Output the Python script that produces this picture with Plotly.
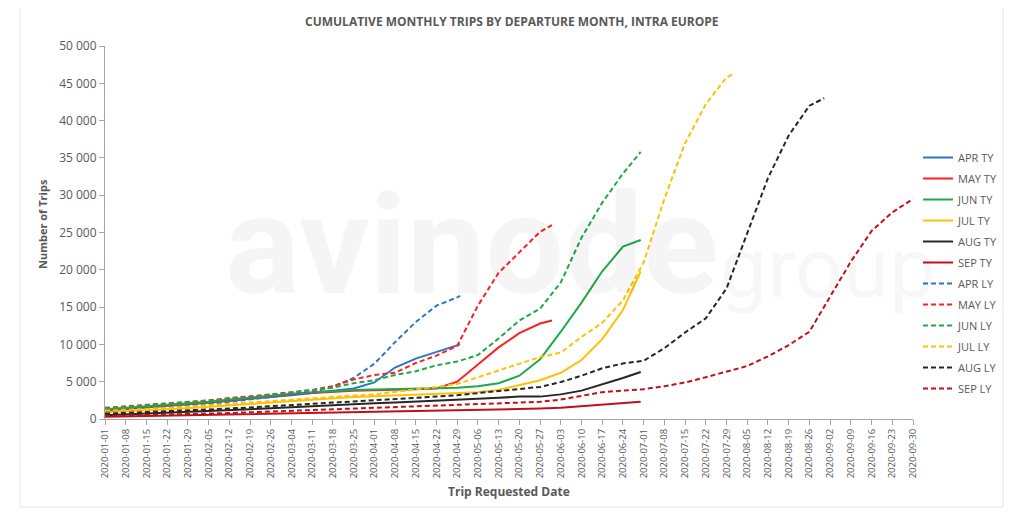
import pandas as pd
import plotly.graph_objects as go

# ---- data ----
WEEK_TICKS = pd.date_range("2020-01-01", "2020-09-30", freq="7D")
TICK_TEXT = [d.strftime("%Y-%m-%d") for d in WEEK_TICKS]

SERIES_NAMES = ["APR TY", "MAY TY", "JUN TY", "JUL TY", "AUG TY", "SEP TY",
                "APR LY", "MAY LY", "JUN LY", "JUL LY", "AUG LY", "SEP LY"]

APR_TY = [1100, 1300, 1500, 1700, 1900, 2100, 2400, 2700, 2900, 3200, 3500, 3800,
          4100, 4900, 6900, 8100, 9000, 9900, 10000]
MAY_TY = [1200, 1400, 1600, 1800, 2000, 2200, 2500, 2800, 3000, 3300, 3500, 3700,
          3800, 3850, 3900, 4000, 4100, 5000, 7300, 9600, 11500, 12800, 13200]
JUN_TY = [1300, 1500, 1700, 1900, 2100, 2300, 2600, 2900, 3100, 3400, 3600, 3800,
          3900, 3950, 4000, 4000, 4100, 4200, 4400, 4800, 5800, 8000, 11700, 15600,
          19800, 23100, 24000]
JUL_TY = [900, 1000, 1150, 1300, 1450, 1600, 1800, 2000, 2200, 2400, 2600, 2800,
          2950, 3050, 3150, 3250, 3350, 3450, 3600, 3900, 4500, 5200, 6200, 7900,
          10700, 14600, 19800]
AUG_TY = [500, 600, 700, 800, 900, 1000, 1150, 1300, 1450, 1600, 1750, 1900,
          2000, 2100, 2200, 2300, 2400, 2550, 2700, 2850, 3000, 3000, 3300, 3800,
          4600, 5500, 6300]
SEP_TY = [300, 350, 400, 450, 500, 550, 600, 650, 700, 750, 800, 850,
          900, 950, 1000, 1050, 1100, 1150, 1200, 1300, 1350, 1400, 1500, 1700,
          1900, 2100, 2300]

APR_LY = [1000, 1200, 1400, 1600, 1800, 2000, 2300, 2600, 2900, 3200, 3600, 4300,
          5500, 7400, 10300, 13000, 15200, 16300, 16500]
MAY_LY = [1500, 1700, 1900, 2100, 2300, 2500, 2800, 3000, 3300, 3600, 3900, 4400,
          5300, 5900, 6200, 7500, 8500, 9800, 15200, 19600, 22400, 25100, 26000]
JUN_LY = [1400, 1600, 1800, 2000, 2200, 2400, 2700, 2900, 3200, 3500, 3800, 4200,
          4800, 5200, 5900, 6400, 7200, 7700, 8580, 10800, 13200, 14800, 18300,
          24300, 29000, 32900, 35800]
JUL_LY = [1100, 1200, 1350, 1500, 1650, 1800, 2000, 2200, 2400, 2600, 2800, 2950,
          3150, 3300, 3600, 3900, 4300, 4700, 5600, 6500, 7300, 8300, 8900, 11000,
          12900, 15900, 21000, 29500, 37000, 42200, 45800, 46200]
AUG_LY = [700, 800, 900, 1000, 1100, 1250, 1400, 1550, 1700, 1850, 2000, 2150,
          2300, 2450, 2650, 2850, 3000, 3200, 3500, 3800, 4100, 4300, 4950, 5800,
          6800, 7450, 7800, 9500, 11600, 13500, 17500, 25000, 32300, 38000, 42000,
          43000]
SEP_LY = [400, 450, 500, 600, 650, 700, 800, 900, 1000, 1100, 1200, 1300,
          1400, 1500, 1600, 1700, 1800, 1900, 2000, 2100, 2200, 2300, 2600, 3100,
          3600, 3800, 4000, 4400, 4900, 5600, 6300, 7100, 8400, 9900, 11700, 16500,
          21100, 25200, 27700, 29500]

# last date of each series (weekly points, then final point on this date)
END_DATES = {"APR TY": "2020-04-30", "MAY TY": "2020-05-31", "JUN TY": "2020-06-30",
             "JUL TY": "2020-06-30", "AUG TY": "2020-06-30", "SEP TY": "2020-06-30",
             "APR LY": "2020-04-30", "MAY LY": "2020-05-31", "JUN LY": "2020-06-30",
             "JUL LY": "2020-07-31", "AUG LY": "2020-08-31", "SEP LY": "2020-09-30"}

VALUES = {"APR TY": APR_TY, "MAY TY": MAY_TY, "JUN TY": JUN_TY, "JUL TY": JUL_TY,
          "AUG TY": AUG_TY, "SEP TY": SEP_TY, "APR LY": APR_LY, "MAY LY": MAY_LY,
          "JUN LY": JUN_LY, "JUL LY": JUL_LY, "AUG LY": AUG_LY, "SEP LY": SEP_LY}

COLORS = {"APR": "#2E75C6", "MAY": "#FF1F1F", "JUN": "#1DAA48", "JUL": "#FFC000",
          "AUG": "#262626", "SEP": "#C0111B"}

FONT = "Open Sans, Arial, sans-serif"
GREY = "#595959"

# plot area in screen pixels (page has an 8px body margin)
PX0, PX1, PY0, PY1 = 105, 913, 46, 419


def px(x):
    return (x - PX0) / (PX1 - PX0)


def py(y):
    return (PY1 - y) / (PY1 - PY0)


fig = go.Figure()
for name in SERIES_NAMES:
    vals = VALUES[name]
    end = pd.Timestamp(END_DATES[name])
    dates = [d for d in WEEK_TICKS if d < end][: len(vals) - 1] + [end]
    if len(dates) < len(vals):
        dates = list(WEEK_TICKS[: len(vals)])
    fig.add_trace(go.Scatter(
        x=dates, y=vals[: len(dates)], mode="lines", name=name, legendgroup=name,
        line=dict(color=COLORS[name[:3]], width=2,
                  dash="solid" if name.endswith("TY") else "5px,3px"),
    ))


def note(text, x, y, size, color=GREY, family=FONT, angle=0):
    fig.add_annotation(text=text, x=px(x), y=py(y), xref="paper", yref="paper",
                       xanchor="center", yanchor="middle", showarrow=False,
                       textangle=angle, font=dict(size=size, family=family, color=color))


# watermark
note("<b>avinode</b>", 472, 245, 140, color="rgba(0,0,0,0.04)", family="Roboto, Arial")
note("group", 828, 268, 84, color="rgba(0,0,0,0.03)", family="Roboto, Arial")

note("<b>CUMULATIVE MONTHLY TRIPS BY DEPARTURE MONTH, INTRA EUROPE</b>", 512, 22, 12)
note("<b>Trip Requested Date</b>", 509, 492, 12)
note("<b>Number of Trips</b>", 42, 224, 11, angle=-90)

fig.add_shape(type="rect", xref="paper", yref="paper",
              x0=px(20), x1=px(1003), y0=py(507), y1=py(6),
              line=dict(color="#e4e4e4", width=1), layer="below")

fig.update_layout(
    width=1016, height=509,
    margin=dict(l=PX0 - 8, r=1024 - PX1, t=PY0 - 8, b=517 - PY1),
    paper_bgcolor="white", plot_bgcolor="white",
    separators=". ",
    showlegend=True,
    legend=dict(x=px(918), y=py(143), xanchor="left", yanchor="top",
                font=dict(size=11, family=FONT, color=GREY),
                itemwidth=30, tracegroupgap=2, bgcolor="rgba(0,0,0,0)"),
    xaxis=dict(type="date", range=["2020-01-01", "2020-09-30"],
               tickvals=list(WEEK_TICKS), ticktext=TICK_TEXT, tickangle=-90,
               tickfont=dict(size=9.5, family=FONT, color=GREY),
               showgrid=False, zeroline=False, showline=True, linecolor="#a6a6a6",
               ticks="outside", ticklen=5, tickcolor="#a6a6a6"),
    yaxis=dict(range=[0, 50000], dtick=5000, tickformat=",d",
               tickfont=dict(size=12, family=FONT, color=GREY),
               showgrid=False, zeroline=False, showline=True, linecolor="#a6a6a6",
               ticks="outside", ticklen=5, tickcolor="#a6a6a6"),
)

fig.write_html("out.html")
